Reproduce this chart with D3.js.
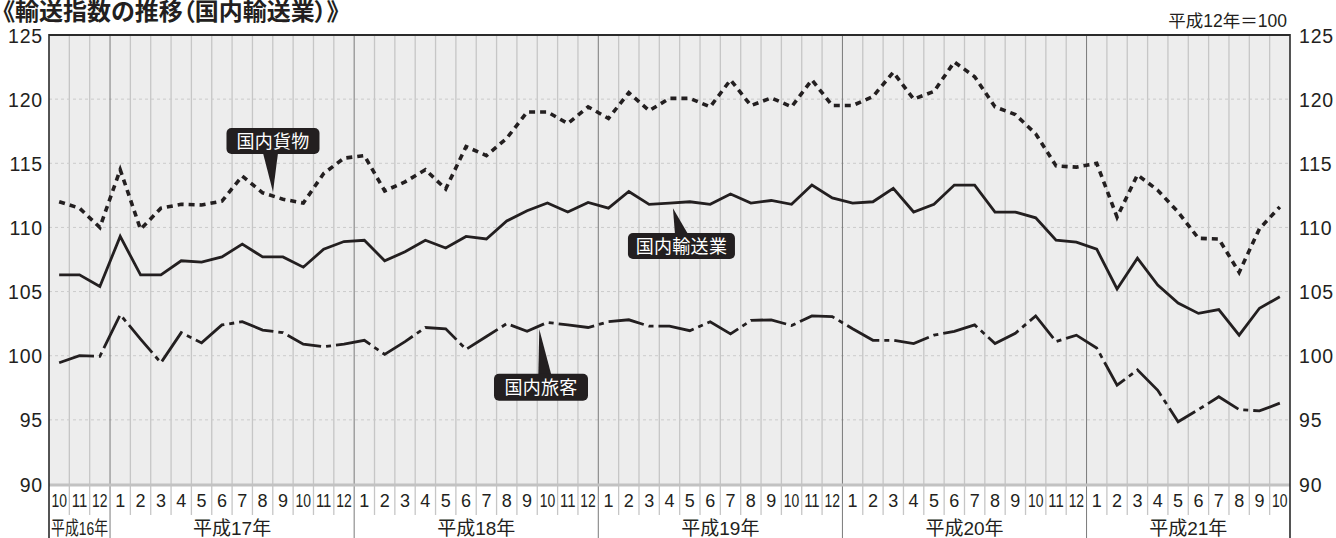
<!DOCTYPE html>
<html><head><meta charset="utf-8">
<script src="https://cdn.jsdelivr.net/npm/d3@7/dist/d3.min.js"></script>
<style>
html,body{margin:0;padding:0;background:#fff;}
svg{display:block;}
.jp{font-family:"Noto Sans CJK JP","Noto Sans",sans-serif;font-feature-settings:"palt";}
.num{font-family:"Liberation Sans",Arial,"Noto Sans CJK JP",sans-serif;}
</style></head>
<body>
<svg id="c" width="1336" height="538"></svg>
<script>
// ---- data ----
const months = ["10","11","12","1","2","3","4","5","6","7","8","9","10","11","12",
  "1","2","3","4","5","6","7","8","9","10","11","12",
  "1","2","3","4","5","6","7","8","9","10","11","12",
  "1","2","3","4","5","6","7","8","9","10","11","12",
  "1","2","3","4","5","6","7","8","9","10"];
const yearLabels = ["平成16年","平成17年","平成18年","平成19年","平成20年","平成21年"];
const yearLengths = [3,12,12,12,12,10];
const yTicks = [90,95,100,105,110,115,120,125];
const transport = [106.3,106.3,105.4,109.3,106.3,106.3,107.4,107.3,107.7,108.7,
  107.7,107.7,106.9,108.3,108.9,109.0,107.4,108.1,109.0,108.4,
  109.3,109.1,110.5,111.3,111.9,111.2,111.95,111.5,112.8,111.8,
  111.9,112.0,111.8,112.6,111.9,112.1,111.8,113.3,112.3,111.9,
  112.0,113.05,111.2,111.8,113.3,113.3,111.2,111.2,110.75,109.0,
  108.85,108.3,105.2,107.6,105.5,104.1,103.3,103.6,101.6,103.7,104.6];
const freight = [112.0,111.5,110.0,114.5,109.85,111.5,111.8,111.75,112.05,114.0,
  112.7,112.2,111.9,114.2,115.4,115.6,112.85,113.55,114.5,113.0,
  116.3,115.6,116.95,119.0,119.0,118.1,119.4,118.5,120.5,119.1,
  120.06,120.06,119.4,121.5,119.5,120.1,119.4,121.5,119.5,119.5,
  120.2,122.1,120.0,120.6,122.9,121.75,119.4,118.8,117.3,114.8,
  114.7,115.0,110.8,114.1,112.9,111.2,109.15,109.1,106.5,109.9,111.6];
const passenger = [99.45,100.0,99.95,103.2,101.3,99.45,101.8,101.0,102.4,102.65,
  102.0,101.8,100.9,100.7,100.9,101.2,100.1,101.1,102.2,102.1,
  100.5,101.5,102.5,101.9,102.6,102.4,102.2,102.65,102.8,102.3,
  102.3,101.95,102.65,101.7,102.75,102.8,102.35,103.1,103.05,102.1,
  101.2,101.2,100.95,101.6,101.9,102.4,100.95,101.75,103.1,101.1,
  101.6,100.6,97.7,98.9,97.3,94.85,95.8,96.8,95.8,95.7,96.3];
const callouts = [
  {label:"国内貨物", at:10.51, value:112.76, dx:0, dy:-51, w:93, h:26, b0:-10, b1:5},
  {label:"国内輸送業", at:30.17, value:111.49, dx:8.5, dy:37.7, w:107, h:26, b0:2, b1:15},
  {label:"国内旅客", at:23.6, value:102.06, dx:1.7, dy:58, w:94, h:27, b0:-1, b1:12}
];

// ---- layout ----
const L=49, R=1290, T=35, B=484, MB=515, H=538;
const svg = d3.select("#c");
const idx = d3.range(months.length);
const x = d3.scaleBand().domain(idx).range([L,R]).padding(0);
const bw = x.bandwidth();
const cx = i => x(i)+bw/2;
const y = d3.scaleLinear().domain([90,125]).range([B,T]);
const fx = a => L + bw*(a+0.5);

// plot background
svg.append("rect").attr("x",L).attr("y",T).attr("width",R-L).attr("height",B-T).attr("fill","#ededed");

// year boundaries
const yearStart = []; let acc=0;
yearLengths.forEach(n=>{yearStart.push(acc); acc+=n;});

// month separators (plot + label row)
svg.append("g").selectAll("line").data(idx.slice(1).filter(i=>!yearStart.includes(i)))
  .join("line").attr("x1",i=>x(i)).attr("x2",i=>x(i)).attr("y1",T).attr("y2",MB)
  .attr("stroke","#c6c6c6").attr("stroke-width",1.3);

// horizontal dashed grid
svg.append("g").selectAll("line").data(yTicks.filter(v=>v>90&&v<125))
  .join("line").attr("x1",L).attr("x2",R).attr("y1",d=>y(d)).attr("y2",d=>y(d))
  .attr("stroke","#cbcbcb").attr("stroke-width",1).attr("stroke-dasharray","3,3");

// year separators
svg.append("g").selectAll("line").data(yearStart.slice(1))
  .join("line").attr("x1",i=>x(i)).attr("x2",i=>x(i)).attr("y1",T).attr("y2",H)
  .attr("stroke","#7a7a7a").attr("stroke-width",1);

// bottom gray line
svg.append("line").attr("x1",L).attr("x2",R).attr("y1",B+1).attr("y2",B+1)
  .attr("stroke","#c2c2c2").attr("stroke-width",3);

// frame
svg.append("line").attr("x1",L).attr("x2",R).attr("y1",T).attr("y2",T).attr("stroke","#2a2a2a").attr("stroke-width",2);
svg.append("line").attr("x1",L).attr("x2",L).attr("y1",T-1).attr("y2",H).attr("stroke","#2a2a2a").attr("stroke-width",1.6);
svg.append("line").attr("x1",R).attr("x2",R).attr("y1",T-1).attr("y2",H).attr("stroke","#2a2a2a").attr("stroke-width",1.6);

// y axes labels (left & right) via d3 axes
const axL = d3.axisLeft(y).tickValues(yTicks).tickSize(0).tickPadding(6);
const gL = svg.append("g").attr("transform",`translate(${L},0)`).call(axL);
const axR = d3.axisRight(y).tickValues(yTicks).tickSize(0).tickPadding(9);
const gR = svg.append("g").attr("transform",`translate(${R},0)`).call(axR);
[gL,gR].forEach(g=>{
  g.select(".domain").remove();
  g.selectAll("text").attr("class","num").attr("font-size",19.5).attr("fill","#231f20")
    .attr("letter-spacing",0.8).attr("dy","0.36em").attr("font-family",null);
});

// month labels
svg.append("g").selectAll("text").data(idx).join("text")
  .attr("class","num").attr("x",cx).attr("y",506.5).attr("text-anchor","middle")
  .attr("font-size",18).attr("fill","#231f20")
  .each(function(i){
    const s=months[i]; d3.select(this).text(s);
    if(s.length>1) d3.select(this).attr("textLength",15.5).attr("lengthAdjust","spacingAndGlyphs");
  });

// year labels
svg.append("g").selectAll("text").data(yearLabels).join("text")
  .attr("class","num").attr("font-size",19).attr("fill","#231f20")
  .attr("text-anchor","middle").attr("y",534.5)
  .attr("x",(d,k)=>(x(yearStart[k]) + x(yearStart[k]+yearLengths[k]-1)+bw)/2)
  .each(function(d,k){
    d3.select(this).text(d);
    if(yearLengths[k]<5) d3.select(this).attr("textLength",57).attr("lengthAdjust","spacingAndGlyphs");
  });

// lines
const line = d3.line().x((d,i)=>cx(i)).y(d=>y(d));
svg.append("path").datum(passenger).attr("d",line).attr("fill","none")
  .attr("stroke","#231f20").attr("stroke-width",2.8).attr("stroke-dasharray","36,5,5,5");
svg.append("path").datum(freight).attr("d",line).attr("fill","none")
  .attr("stroke","#231f20").attr("stroke-width",3.6).attr("stroke-dasharray","6,5");
svg.append("path").datum(transport).attr("d",line).attr("fill","none")
  .attr("stroke","#231f20").attr("stroke-width",2.8).attr("stroke-linejoin","miter");

// callouts
const cg = svg.append("g").selectAll("g").data(callouts).join("g");
cg.each(function(c){
  const g=d3.select(this);
  const tx=fx(c.at), ty=y(c.value);
  const bx=tx+c.dx, by=ty+c.dy;
  const top=by-c.h/2, bot=by+c.h/2;
  const baseY = c.dy<0 ? bot-1 : top+1;
  g.append("polygon").attr("points",`${tx},${ty} ${tx+c.b0},${baseY} ${tx+c.b1},${baseY}`).attr("fill","#231f20");
  g.append("rect").attr("x",bx-c.w/2).attr("y",top).attr("width",c.w).attr("height",c.h)
    .attr("rx",5).attr("fill","#231f20");
  g.append("text").attr("class","jp").attr("x",bx).attr("y",by+6.5).attr("text-anchor","middle")
    .attr("font-size",18).attr("letter-spacing",0.3).attr("fill","#fff").text(c.label);
});

// title & unit
svg.append("text").attr("class","jp").attr("x",3).attr("y",20).attr("font-size",24)
  .attr("font-weight","bold").attr("fill","#231f20").text("《輸送指数の推移（国内輸送業）》");
svg.append("text").attr("class","num").attr("x",1287).attr("y",27).attr("text-anchor","end")
  .attr("font-size",17.5).attr("fill","#231f20").text("平成12年＝100");
</script>
</body></html>
